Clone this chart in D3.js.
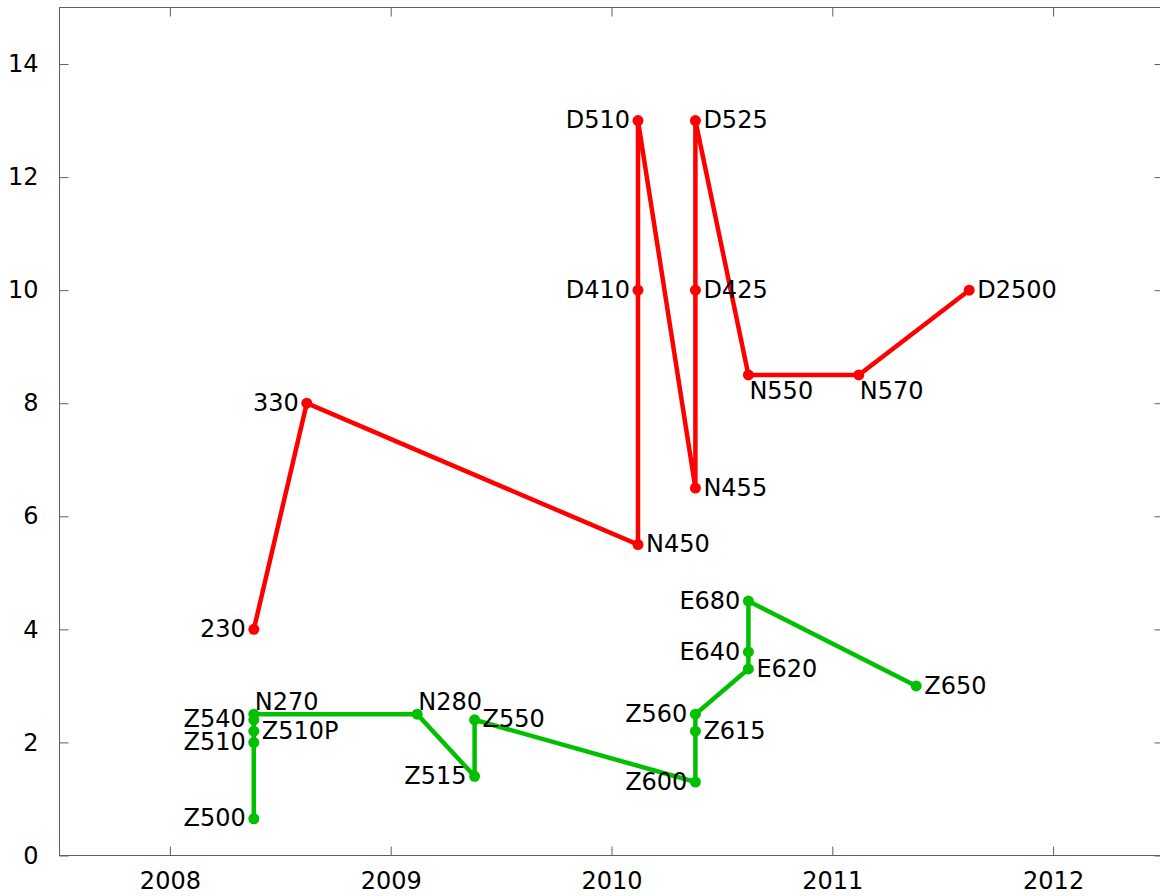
<!DOCTYPE html>
<html>
<head>
<meta charset="utf-8">
<script src="https://cdn.jsdelivr.net/npm/d3@7/dist/d3.min.js"></script>
<style>
  html, body { margin: 0; padding: 0; background: #fff; }
  svg { display: block; }
  text { font-family: "DejaVu Sans", sans-serif; }
</style>
</head>
<body>
<svg id="chart" width="1160" height="896"></svg>
<script>
// ---- data ----
const redNames  = ["230", "330", "N450", "D410", "D510", "N455", "D425", "D525", "N550", "N570", "D2500"];
const redX      = [2008.38, 2008.62, 2010.12, 2010.12, 2010.12, 2010.38, 2010.38, 2010.38, 2010.62, 2011.12, 2011.62];
const redY      = [4, 8, 5.5, 10, 13, 6.5, 10, 13, 8.5, 8.5, 10];
const redPos    = ["left", "left", "right", "left", "left", "right", "right", "right", "below", "below", "right"];

const greenNames = ["Z500", "Z510", "Z510P", "Z540", "N270", "N280", "Z515", "Z550", "Z600", "Z615", "Z560", "E620", "E640", "E680", "Z650"];
const greenX     = [2008.38, 2008.38, 2008.38, 2008.38, 2008.38, 2009.12, 2009.38, 2009.38, 2010.38, 2010.38, 2010.38, 2010.62, 2010.62, 2010.62, 2011.38];
const greenY     = [0.65, 2.0, 2.2, 2.4, 2.5, 2.5, 1.4, 2.4, 1.3, 2.2, 2.5, 3.3, 3.6, 4.5, 3.0];
const greenPos   = ["left", "left", "right", "left", "above", "above", "left", "right", "left", "right", "left", "right", "left", "left", "right"];

const xTicks = [2008, 2009, 2010, 2011, 2012];
const yTicks = [0, 2, 4, 6, 8, 10, 12, 14];

// ---- layout ----
const svg = d3.select("#chart");
const L = 59.5, R = 1163.5, T = 7.5, B = 855.5;
const x = d3.scaleLinear().domain([2007.5, 2012.5]).range([L, R]);
const y = d3.scaleLinear().domain([0, 15]).range([B, T]);
const axisColor = "#606060";
const fontSize = 24;

function styleAxis(g) {
  g.select(".domain").remove();
  g.selectAll(".tick line").attr("stroke", axisColor).attr("stroke-width", 1);
  g.selectAll(".tick text").attr("fill", "#000").style("font-size", fontSize + "px")
    .style("font-family", "DejaVu Sans, sans-serif");
}

svg.append("g").attr("transform", `translate(0,${B})`)
  .call(d3.axisBottom(x).tickValues(xTicks).tickFormat(d3.format("d")).tickSize(-9).tickPadding(16))
  .call(styleAxis);
svg.append("g").attr("transform", `translate(0,${T})`)
  .call(d3.axisTop(x).tickValues(xTicks).tickFormat("").tickSize(-9))
  .call(styleAxis);
svg.append("g").attr("transform", `translate(${L},0)`)
  .call(d3.axisLeft(y).tickValues(yTicks).tickFormat(d3.format("d")).tickSize(-9).tickPadding(21))
  .call(styleAxis);
svg.append("g").attr("transform", `translate(${R},0)`)
  .call(d3.axisRight(y).tickValues(yTicks).tickFormat("").tickSize(-9))
  .call(styleAxis);

svg.append("rect").attr("x", L).attr("y", T).attr("width", R - L).attr("height", B - T)
  .attr("fill", "none").attr("stroke", axisColor).attr("stroke-width", 1);

// ---- series ----
function drawSeries(names, xs, ys, pos, color) {
  const pts = names.map((n, i) => ({ name: n, x: xs[i], y: ys[i], pos: pos[i] }));
  const line = d3.line().x(d => x(d.x)).y(d => y(d.y));
  svg.append("path").datum(pts).attr("d", line)
    .attr("fill", "none").attr("stroke", color).attr("stroke-width", 4.5)
    .attr("stroke-linejoin", "miter");
  svg.append("g").selectAll("circle").data(pts).join("circle")
    .attr("cx", d => x(d.x)).attr("cy", d => y(d.y)).attr("r", 5.5).attr("fill", color);
  svg.append("g").selectAll("text").data(pts).join("text")
    .attr("x", d => {
      const px = x(d.x);
      if (d.pos === "left") return px - 8;
      if (d.pos === "right") return px + 8;
      return px + 1;
    })
    .attr("y", d => {
      const py = y(d.y);
      if (d.pos === "below") return py + 15;
      if (d.pos === "above") return py - 13;
      return py - 1;
    })
    .attr("dy", "0.36em")
    .attr("text-anchor", d => d.pos === "left" ? "end" : "start")
    .style("font-size", fontSize + "px")
    .attr("fill", "#000")
    .text(d => d.name);
}

drawSeries(greenNames, greenX, greenY, greenPos, "#00c000");
drawSeries(redNames, redX, redY, redPos, "#ff0000");
</script>
</body>
</html>
